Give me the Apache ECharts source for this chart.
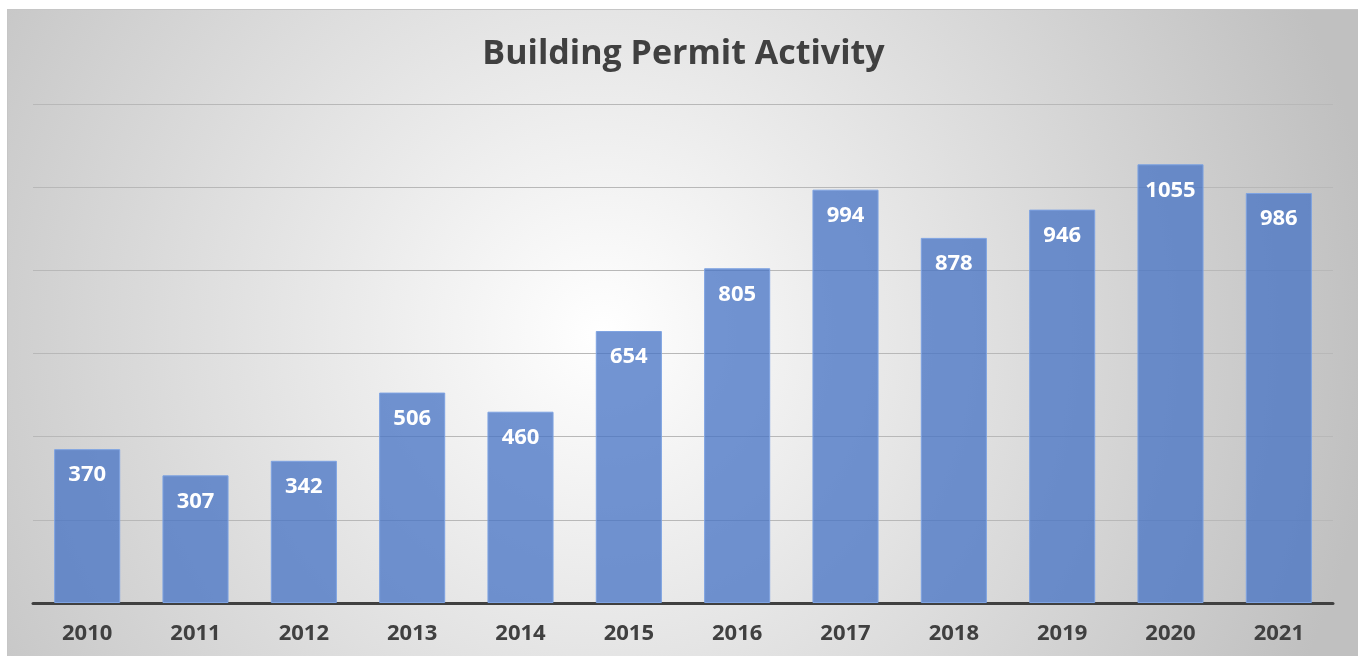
<!DOCTYPE html>
<html>
<head>
<meta charset="utf-8">
<script src="https://cdn.jsdelivr.net/npm/echarts@6/dist/echarts.min.js"></script>
<style>
  html, body { margin: 0; padding: 0; background: #fff; }
  #chart {
    position: absolute; left: 7px; top: 9px;
    width: 1351px; height: 647px;
    border-top: 1px solid #c6c6c6; border-left: 1px solid #c6c6c6;
  }
</style>
</head>
<body>
<div id="chart"></div>
<script>
const years = ['2010', '2011', '2012', '2013', '2014', '2015', '2016', '2017', '2018', '2019', '2020', '2021']
const permits = [370, 307, 342, 506, 460, 654, 805, 994, 878, 946, 1055, 986]

const myChart = echarts.init(document.getElementById('chart'))
const option = {
  backgroundColor: {
    type: 'radial', x: 0.44, y: 0.5, r: 1.2,
    colorStops: [
      { offset: 0, color: '#ffffff' },
      { offset: 1, color: '#c0c0c0' }
    ]
  },
  title: {
    text: 'Building Permit Activity',
    left: 'center',
    top: 22,
    textStyle: { fontFamily: 'Open Sans', fontWeight: 'bold', fontSize: 34, color: '#404040' }
  },
  grid: { left: 25, top: 94, width: 1300, height: 499 },
  xAxis: {
    type: 'category',
    data: years,
    axisTick: { show: false },
    axisLine: { lineStyle: { color: '#404040', width: 3 } },
    axisLabel: {
      margin: 20,
      fontFamily: 'Open Sans', fontWeight: 'bold', fontSize: 22, color: '#404040'
    }
  },
  yAxis: {
    type: 'value',
    min: 0, max: 1200, interval: 200,
    axisLabel: { show: false },
    axisLine: { show: false },
    axisTick: { show: false },
    splitLine: { lineStyle: { color: '#b8b8b8', width: 1 } }
  },
  series: [
    {
      type: 'bar',
      data: permits,
      barWidth: '61%',
      itemStyle: { color: 'rgba(68,114,196,0.75)', borderColor: '#7ea3e2', borderWidth: 1 },
      label: {
        show: true,
        position: 'insideTop',
        distance: 15,
        fontFamily: 'Open Sans', fontWeight: 'bold', fontSize: 22, color: '#ffffff'
      }
    }
  ]
}
option && myChart.setOption(option)
</script>
</body>
</html>
